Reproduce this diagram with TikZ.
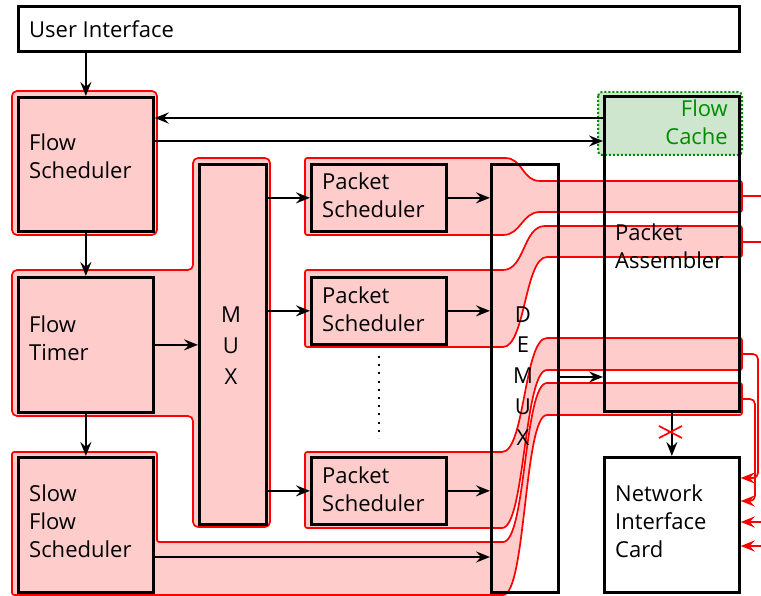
\documentclass[tikz,border=0pt]{standalone}
\usepackage{fontspec}
\setmainfont{Open Sans}
\usetikzlibrary{arrows.meta}
\definecolor{regfill}{RGB}{255,204,204}
\definecolor{regline}{RGB}{255,0,0}
\definecolor{cachefill}{RGB}{206,230,206}
\definecolor{cacheline}{RGB}{0,140,0}
\begin{document}
\begin{tikzpicture}[x=1pt,y=-1pt,
  region/.style={draw=regline, fill=regfill, line width=1.7pt, rounded corners=5pt},
  band/.style={draw=regline, fill=regfill, line width=1.7pt},
  box/.style={draw=black, line width=2.7pt, inner sep=0pt, anchor=north west},
  arr/.style={draw=black, line width=2.2pt, -{Stealth[length=14pt,width=11pt,inset=5pt]}},
  redarr/.style={draw=regline, line width=1.7pt, -{Stealth[length=14pt,width=11pt,inset=5pt]}},
  redline/.style={draw=regline, line width=1.7pt},
  lbl/.style={anchor=base west, inner sep=0pt, align=left, font=\fontsize{22}{28}\selectfont},
  vlbl/.style={anchor=base, inner sep=0pt, align=center},
  cache/.style={draw=cacheline, fill=cachefill, line width=2pt, dash pattern=on 2pt off 2pt, rounded corners=4pt}
]
\useasboundingbox (0,0) rectangle (761,596);
\fill[white] (0,0) rectangle (761,596);

% ---------- red regions ----------
\path[region] (12,91) rectangle (157,235);
\path[region] (12,270) -- (193,270) -- (193,158) -- (270,158) -- (270,527) -- (193,527) -- (193,416) -- (12,416) -- cycle;
\path[band] (310,158) -- (505,158) .. controls (523,158) and (522,181) .. (540,181) -- (737,181)
  .. controls (742,181) .. (742,186) -- (742,207) .. controls (742,212) .. (737,212)
  -- (540,212) .. controls (522,212) and (521,235) .. (503,235) -- (310,235)
  .. controls (305,235) .. (305,230) -- (305,163) .. controls (305,158) .. (310,158) -- cycle;
\path[band] (310,270) -- (503,270) .. controls (525,270) and (523,226) .. (545,226) -- (737,226)
  .. controls (742,226) .. (742,231) -- (742,252) .. controls (742,257) .. (737,257)
  -- (547,257) .. controls (525,257) and (525,347) .. (503,347) -- (310,347)
  .. controls (305,347) .. (305,342) -- (305,275) .. controls (305,270) .. (310,270) -- cycle;
\path[band] (310,452) -- (502,452) .. controls (525,452) and (524,338) .. (547,338) -- (737,338)
  .. controls (742,338) .. (742,343) -- (742,365) .. controls (742,370) .. (737,370)
  -- (547,370) .. controls (524,370) and (525,528) .. (502,528) -- (310,528)
  .. controls (305,528) .. (305,523) -- (305,457) .. controls (305,452) .. (310,452) -- cycle;
\path[band] (17,452) -- (152,452) .. controls (157,452) .. (157,457) -- (157,537) .. controls (157,542) .. (162,542)
  -- (503,542) .. controls (526,542) and (524,383) .. (547,383) -- (737,383)
  .. controls (742,383) .. (742,388) -- (742,410) .. controls (742,415) .. (737,415)
  -- (547,415) .. controls (524,415) and (526,595) .. (503,595) -- (17,595)
  .. controls (12,595) .. (12,590) -- (12,457) .. controls (12,452) .. (17,452) -- cycle;

% ---------- flow cache ----------
\path[cache] (598,92) rectangle (742,155);

% ---------- boxes ----------
\node[box, minimum width=721pt, minimum height=45pt] (ui) at (17,5) {};
\node[box, minimum width=135pt, minimum height=134pt] (fs) at (17,96) {};
\node[box, minimum width=135pt, minimum height=135pt] (ft) at (17,276) {};
\node[box, minimum width=135pt, minimum height=135pt] (sfs) at (17,456) {};
\node[box, minimum width=67pt, minimum height=360pt] (mux) at (198,163) {};
\node[box, minimum width=135pt, minimum height=67pt] (ps1) at (310,163) {};
\node[box, minimum width=135pt, minimum height=67pt] (ps2) at (310,276) {};
\node[box, minimum width=135pt, minimum height=67pt] (ps3) at (310,456) {};
\node[box, minimum width=67pt, minimum height=428pt] (demux) at (490,163) {};
\node[box, minimum width=135pt, minimum height=315pt] (pa) at (603,95) {};
\node[box, minimum width=135pt, minimum height=135pt] (nic) at (603,456) {};

% ---------- arrows ----------
\draw[arr] (ui.south -| fs.north) -- (fs.north);
\draw[arr] (pa.west |- 0,118) -- (fs.east |- 0,118);
\draw[arr] (fs.east |- 0,141) -- (pa.west |- 0,141);
\draw[arr] (fs.south) -- (ft.north);
\draw[arr] (ft.south) -- (sfs.north);
\draw[arr] (ft.east) -- (ft.east -| mux.west);
\draw[arr] (ps1.west -| mux.east) -- (ps1.west);
\draw[arr] (ps2.west -| mux.east) -- (ps2.west);
\draw[arr] (ps3.west -| mux.east) -- (ps3.west);
\draw[arr] (ps1.east) -- (ps1.east -| demux.west);
\draw[arr] (ps2.east) -- (ps2.east -| demux.west);
\draw[arr] (ps3.east) -- (ps3.east -| demux.west);
\draw[arr] (sfs.east |- 0,557) -- (demux.west |- 0,557);
\draw[arr] (demux.east |- 0,377) -- (pa.west |- 0,377);
\draw[arr] (pa.south) -- (nic.north);
\draw[line width=2pt, dash pattern=on 2pt off 6.2pt] (ps2.south |- 0,356) -- (ps3.north |- 0,438);

% ---------- red connectors ----------
\coordinate (o1) at (761,196);
\coordinate (o2) at (761,242);
\draw[redline] (742,196) -- (o1);
\draw[redline] (742,242) -- (o2);
\draw[redarr, rounded corners=5pt] (742,354) -- (758,354) -- (758,478) -- (nic.east |- 0,478);
\draw[redarr, rounded corners=5pt] (742,399) -- (755,399) -- (755,501) -- (nic.east |- 0,501);
\coordinate (i1) at (761,522);
\coordinate (i2) at (761,546);
\draw[redarr] (i1) -- (nic.east |- i1);
\draw[redarr] (i2) -- (nic.east |- i2);
\draw[redline] (659,426) -- (682,438);
\draw[redline] (659,438) -- (682,426);

% ---------- labels (base = last line) ----------
\node[lbl] (tui) at (29,38) {User Interface};
\node[lbl] (tfs) at (29,179) {Flow\\Scheduler};
\node[lbl] (tft) at (29,360) {Flow\\Timer};
\node[lbl] (tsfs) at (29,557) {Slow\\Flow\\Scheduler};
\node[lbl] (tps1) at (322,218) {Packet\\Scheduler};
\node[lbl] (tps2) at (322,331) {Packet\\Scheduler};
\node[lbl] (tps3) at (322,511) {Packet\\Scheduler};
\node[lbl] (tpa) at (615,269) {Packet\\Assembler};
\node[lbl] (tnic) at (615,557) {Network\\Interface\\Card};
\node[lbl, anchor=base east, align=right, text=cacheline] (tfc) at (728,145) {Flow\\Cache};
\node[vlbl, font=\fontsize{22}{31}\selectfont] (tmux) at (231,384) {M\\U\\X};
\node[vlbl, font=\fontsize{22}{30.75}\selectfont] (tdemux) at (523,445) {D\\E\\M\\U\\X};
\end{tikzpicture}
\end{document}
